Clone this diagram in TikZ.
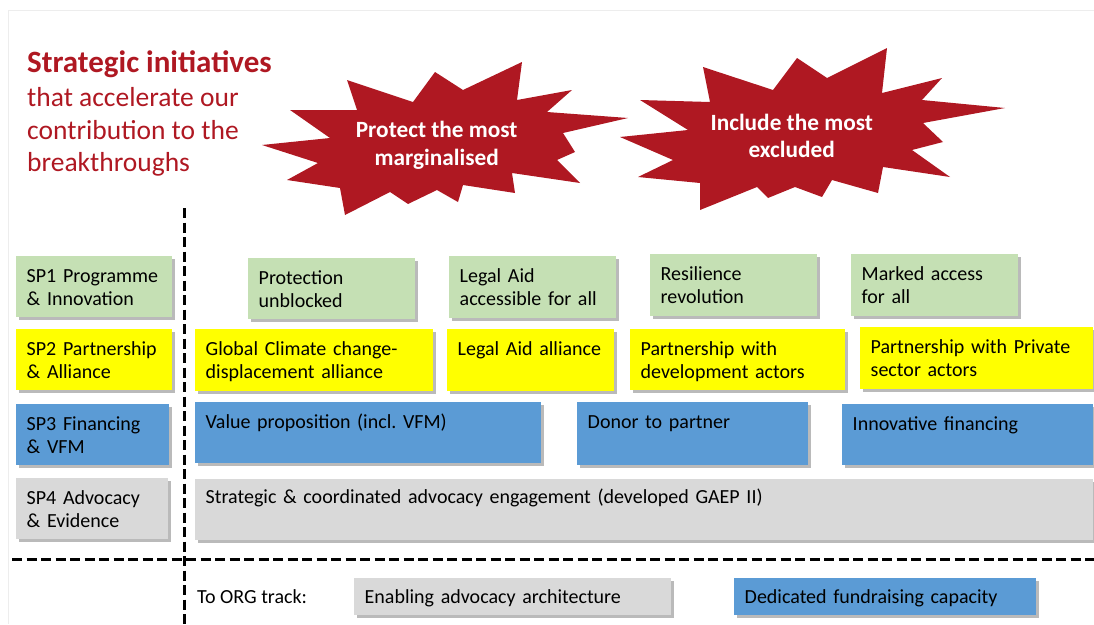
\documentclass[tikz,border=0pt]{standalone}
\usepackage{fontspec}
\setmainfont{Carlito}
\frenchspacing
\usetikzlibrary{positioning, shadows}
\definecolor{breakred}{RGB}{175,24,34}
\definecolor{progfill}{RGB}{197,224,180}
\definecolor{partfill}{RGB}{255,255,0}
\definecolor{finfill}{RGB}{91,155,213}
\definecolor{advfill}{RGB}{217,217,217}
\tikzset{
    block/.style={rectangle, anchor=north west, align=left, inner xsep=10.5pt, inner ysep=0pt, text height=26pt, text depth=35pt, drop shadow={shadow xshift=2.5pt, shadow yshift=-2.5pt, opacity=0.45, fill=black!60}},
    progbox/.style={block, fill=progfill},
    partbox/.style={block, fill=partfill},
    finbox/.style={block, fill=finfill},
    advbox/.style={block, fill=advfill},
    trackbox/.style={text height=25pt, text depth=12pt},
    burst/.style={fill=breakred},
    burst text/.style={anchor=base, text=white, align=center, font=\fontsize{23.3}{27.3}\selectfont\bfseries},
    divider/.style={draw, line width=3pt, dash pattern=on 10pt off 4.5pt},
    every node/.style={font=\fontsize{20}{23.3}\selectfont}
}

\begin{document}
\begin{tikzpicture}[x=1pt, y=-1pt]
    \useasboundingbox (0,0) rectangle (1094,624);
    \draw[black!7, line width=1pt] (8,624) |- (1094,10);

    % Heading
    \node[anchor=base west, inner sep=0pt, text=breakred, font=\fontsize{31}{34}\selectfont\bfseries] (heading) at (27,72.7) {Strategic initiatives};
    \node[anchor=base west, inner sep=0pt, align=left, text=breakred, font=\fontsize{27.5}{32.5}\selectfont] (subheading) at (27,171.7) {that accelerate our\\contribution to the\\breakthroughs};

    % Breakthroughs
    \fill[burst] (347,80) -- (413,102) -- (435,72) -- (463,90) -- (522,62) -- (517,100) -- (572,90) -- (547,112) -- (628,118) -- (563,133) -- (575,152) -- (557,160) -- (580,183) -- (512,173) -- (515,193) -- (463,185) -- (458,202) -- (437,190) -- (408,204) -- (390,192) -- (345,215) -- (340,188) -- (287,180) -- (318,163) -- (262,145) -- (330,138) -- (290,110) -- (357,110) -- cycle;
    \node[burst text] (protect) at (436.7,165) {Protect the most\\marginalised};
    \fill[burst] (703,67) -- (773,90) -- (797,58) -- (827,78) -- (887,48) -- (882,93) -- (942,78) -- (922,100) -- (1005,108) -- (923,123) -- (943,142) -- (912,150) -- (950,177) -- (883,167) -- (878,193) -- (832,180) -- (822,197) -- (795,187) -- (768,198) -- (757,187) -- (700,210) -- (700,183) -- (638,177) -- (673,160) -- (620,137) -- (688,130) -- (640,100) -- (710,102) -- cycle;
    \node[burst text] (include) at (791.7,157.3) {Include the most\\excluded};

    % Dividers
    \coordinate (vtop) at (184,208);
    \coordinate (vbottom) at (184,624);
    \coordinate (hleft) at (12,559);
    \coordinate (hright) at (1094,559);
    \draw[divider] (hleft) -- (hright);
    \draw[divider] (vtop) -- (vbottom);

    % SP1 Programme & Innovation
    \node[progbox, text width=135pt] (sp1) at (16,256) {SP1 Programme\\\& Innovation};
    \node[progbox, text width=146pt] (protection) at (248,258) {Protection\\unblocked};
    \node[progbox, text width=146pt, text depth=36pt] (legalaccess) at (449,256) {Legal Aid\\accessible for all};
    \node[progbox, text width=146pt, text depth=36pt] (resilience) at (650,254) {Resilience\\revolution};
    \node[progbox, text width=146pt, text depth=36pt] (marked) at (851,254) {Marked access\\for all};

    % SP2 Partnership & Alliance
    \node[partbox, text width=135pt] (sp2) at (16,329) {SP2 Partnership\\\& Alliance};
    \node[partbox, text width=217pt, text depth=36pt] (climate) at (195,329) {Global Climate change-\\displacement alliance};
    \node[partbox, text width=146pt, text depth=36pt] (legalalliance) at (447,329) {Legal Aid alliance};
    \node[partbox, text width=194pt] (devactors) at (630,329) {Partnership with\\development actors};
    \node[partbox, text width=212pt, text depth=36pt] (private) at (860,327) {Partnership with Private\\sector actors};

    % SP3 Financing & VFM
    \node[finbox, text width=132pt] (sp3) at (16,404) {SP3 Financing\\\& VFM};
    \node[finbox, text width=325pt] (value) at (195,402) {Value proposition (incl. VFM)};
    \node[finbox, text width=210pt, text depth=37pt] (donor) at (577,402) {Donor to partner};
    \node[finbox, text width=230pt] (innovative) at (842,404) {Innovative financing};

    % SP4 Advocacy & Evidence
    \node[advbox, text width=131pt] (sp4) at (16,478) {SP4 Advocacy\\\& Evidence};
    \node[advbox, text width=877pt, text height=24pt, text depth=37pt] (advocacy) at (195,479) {Strategic \& coordinated advocacy engagement (developed GAEP II)};

    % To ORG track
    \node[anchor=base west, inner sep=0pt] (orgtrack) at (197,603) {To ORG track:};
    \node[advbox, trackbox, text width=296pt] (enabling) at (354,578) {Enabling advocacy architecture};
    \node[finbox, trackbox, text width=281pt] (dedicated) at (734,578) {Dedicated fundraising capacity};

\end{tikzpicture}
\end{document}
